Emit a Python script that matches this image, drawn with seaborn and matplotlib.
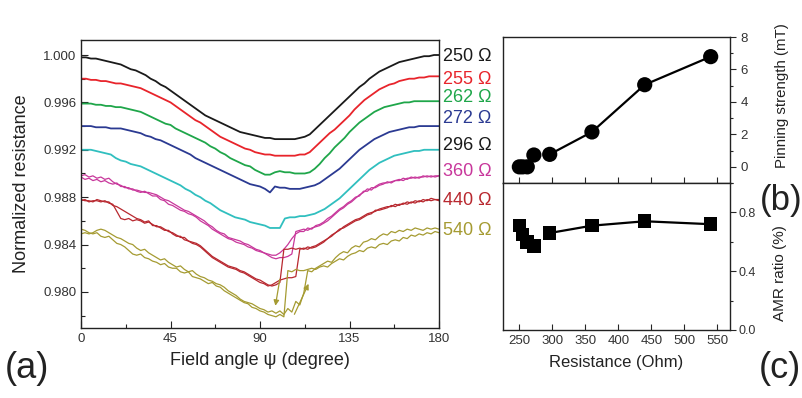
import matplotlib
matplotlib.use("Agg")
import numpy as np
import matplotlib.pyplot as plt
from matplotlib.ticker import MultipleLocator, FormatStrFormatter
import seaborn as sns

sns.set_theme(style="ticks")
plt.rcParams["font.family"] = ["Liberation Sans", "DejaVu Sans"]

# ── (a) angle sweeps ──────────────────────────────────────────────────────────
angle_smooth = np.arange(0, 180.1, 2.5)   # 73 samples
angle_noisy = np.arange(0, 180.1, 2.0)    # 91 samples

r250 = [0.9998, 0.9998, 0.9997, 0.9997, 0.9996, 0.9995, 0.9994, 0.9993,
        0.9992, 0.9990, 0.9988, 0.9987, 0.9985, 0.9983, 0.9980, 0.9978,
        0.9975, 0.9973, 0.9970, 0.9967, 0.9964, 0.9961, 0.9958, 0.9955,
        0.9952, 0.9949, 0.9947, 0.9945, 0.9943, 0.9941, 0.9939, 0.9937,
        0.9935, 0.9934, 0.9933, 0.9932, 0.9931, 0.9930, 0.9930, 0.9929,
        0.9929, 0.9929, 0.9929, 0.9929, 0.9930, 0.9931, 0.9933, 0.9937,
        0.9941, 0.9945, 0.9949, 0.9953, 0.9957, 0.9961, 0.9965, 0.9969,
        0.9973, 0.9976, 0.9980, 0.9983, 0.9986, 0.9988, 0.9990, 0.9992,
        0.9994, 0.9995, 0.9996, 0.9997, 0.9998, 0.9999, 0.9999, 1.0000,
        1.0000]
r255 = [0.9980, 0.9980, 0.9979, 0.9979, 0.9978, 0.9978, 0.9977, 0.9976,
        0.9976, 0.9975, 0.9974, 0.9973, 0.9972, 0.9970, 0.9968, 0.9966,
        0.9964, 0.9962, 0.9960, 0.9957, 0.9954, 0.9951, 0.9948, 0.9945,
        0.9943, 0.9940, 0.9937, 0.9934, 0.9931, 0.9929, 0.9927, 0.9925,
        0.9923, 0.9921, 0.9920, 0.9918, 0.9917, 0.9916, 0.9916, 0.9915,
        0.9915, 0.9915, 0.9915, 0.9915, 0.9916, 0.9916, 0.9918, 0.9922,
        0.9926, 0.9930, 0.9934, 0.9937, 0.9941, 0.9945, 0.9949, 0.9954,
        0.9958, 0.9962, 0.9965, 0.9968, 0.9971, 0.9973, 0.9975, 0.9976,
        0.9978, 0.9979, 0.9980, 0.9980, 0.9981, 0.9981, 0.9982, 0.9982,
        0.9982]
r262 = [0.9959, 0.9959, 0.9959, 0.9958, 0.9958, 0.9957, 0.9957, 0.9956,
        0.9956, 0.9955, 0.9954, 0.9953, 0.9952, 0.9950, 0.9948, 0.9946,
        0.9944, 0.9942, 0.9941, 0.9938, 0.9936, 0.9934, 0.9932, 0.9930,
        0.9928, 0.9926, 0.9923, 0.9921, 0.9918, 0.9916, 0.9913, 0.9911,
        0.9909, 0.9907, 0.9906, 0.9903, 0.9901, 0.9899, 0.9899, 0.9901,
        0.9902, 0.9901, 0.9901, 0.9900, 0.9900, 0.9900, 0.9901, 0.9904,
        0.9908, 0.9913, 0.9917, 0.9922, 0.9926, 0.9930, 0.9935, 0.9939,
        0.9943, 0.9946, 0.9949, 0.9952, 0.9954, 0.9956, 0.9957, 0.9958,
        0.9959, 0.9960, 0.9960, 0.9961, 0.9961, 0.9961, 0.9961, 0.9961,
        0.9961]
r272 = [0.9940, 0.9940, 0.9940, 0.9939, 0.9939, 0.9939, 0.9938, 0.9938,
        0.9938, 0.9937, 0.9936, 0.9935, 0.9934, 0.9932, 0.9931, 0.9929,
        0.9928, 0.9926, 0.9924, 0.9922, 0.9920, 0.9918, 0.9916, 0.9913,
        0.9911, 0.9909, 0.9907, 0.9905, 0.9903, 0.9901, 0.9899, 0.9897,
        0.9895, 0.9893, 0.9891, 0.9890, 0.9889, 0.9887, 0.9884, 0.9889,
        0.9888, 0.9888, 0.9887, 0.9887, 0.9887, 0.9888, 0.9889, 0.9890,
        0.9892, 0.9895, 0.9898, 0.9901, 0.9904, 0.9908, 0.9912, 0.9916,
        0.9920, 0.9923, 0.9926, 0.9929, 0.9931, 0.9933, 0.9935, 0.9936,
        0.9937, 0.9938, 0.9939, 0.9939, 0.9940, 0.9940, 0.9940, 0.9940,
        0.9940]
r296 = [0.9920, 0.9920, 0.9920, 0.9919, 0.9918, 0.9917, 0.9916, 0.9913,
        0.9911, 0.9910, 0.9908, 0.9907, 0.9906, 0.9904, 0.9902, 0.9900,
        0.9898, 0.9896, 0.9894, 0.9892, 0.9890, 0.9887, 0.9885, 0.9882,
        0.9880, 0.9877, 0.9875, 0.9872, 0.9869, 0.9867, 0.9865, 0.9863,
        0.9862, 0.9861, 0.9859, 0.9858, 0.9857, 0.9856, 0.9854, 0.9854,
        0.9854, 0.9862, 0.9863, 0.9863, 0.9864, 0.9864, 0.9865, 0.9866,
        0.9868, 0.9870, 0.9873, 0.9876, 0.9879, 0.9883, 0.9887, 0.9891,
        0.9895, 0.9899, 0.9903, 0.9906, 0.9909, 0.9911, 0.9913, 0.9915,
        0.9916, 0.9917, 0.9918, 0.9919, 0.9919, 0.9920, 0.9920, 0.9920,
        0.9920]

# noisy samples: two sweeps each
r360_a = [0.9898, 0.9899, 0.9897, 0.9898, 0.9896, 0.9897, 0.9895, 0.9896, 0.9893, 0.9891,
          0.9890, 0.9888, 0.9888, 0.9886, 0.9886, 0.9885, 0.9884, 0.9884, 0.9883, 0.9882,
          0.9880, 0.9878, 0.9877, 0.9875, 0.9873, 0.9871, 0.9869, 0.9868, 0.9866, 0.9864,
          0.9862, 0.9860, 0.9857, 0.9855, 0.9852, 0.9850, 0.9849, 0.9846, 0.9845, 0.9844,
          0.9843, 0.9841, 0.9840, 0.9838, 0.9836, 0.9835, 0.9833, 0.9831, 0.9829, 0.9828,
          0.9829, 0.9829, 0.9830, 0.9832, 0.9851, 0.9852, 0.9853, 0.9852, 0.9854, 0.9855,
          0.9856, 0.9858, 0.9860, 0.9863, 0.9866, 0.9869, 0.9871, 0.9874, 0.9876, 0.9879,
          0.9882, 0.9884, 0.9887, 0.9886, 0.9889, 0.9891, 0.9892, 0.9892, 0.9893, 0.9894,
          0.9894, 0.9896, 0.9895, 0.9897, 0.9896, 0.9897, 0.9897, 0.9898, 0.9897, 0.9898,
          0.9898]
r360_b = [0.9897, 0.9895, 0.9896, 0.9894, 0.9895, 0.9893, 0.9894, 0.9892, 0.9891, 0.9892,
          0.9889, 0.9889, 0.9887, 0.9887, 0.9885, 0.9884, 0.9885, 0.9883, 0.9881, 0.9881,
          0.9878, 0.9877, 0.9874, 0.9873, 0.9871, 0.9869, 0.9868, 0.9866, 0.9865, 0.9863,
          0.9860, 0.9858, 0.9856, 0.9853, 0.9851, 0.9849, 0.9847, 0.9845, 0.9844, 0.9842,
          0.9841, 0.9840, 0.9838, 0.9837, 0.9835, 0.9834, 0.9833, 0.9832, 0.9831, 0.9831,
          0.9833, 0.9836, 0.9840, 0.9845, 0.9849, 0.9851, 0.9851, 0.9854, 0.9853, 0.9856,
          0.9857, 0.9859, 0.9862, 0.9864, 0.9867, 0.9870, 0.9872, 0.9875, 0.9877, 0.9880,
          0.9881, 0.9885, 0.9885, 0.9888, 0.9888, 0.9890, 0.9891, 0.9893, 0.9892, 0.9894,
          0.9895, 0.9894, 0.9896, 0.9896, 0.9897, 0.9896, 0.9898, 0.9897, 0.9898, 0.9897,
          0.9898]
r440_a = [0.9877, 0.9878, 0.9876, 0.9877, 0.9877, 0.9876, 0.9877, 0.9875, 0.9874, 0.9868,
          0.9862, 0.9861, 0.9862, 0.9860, 0.9861, 0.9860, 0.9858, 0.9859, 0.9857, 0.9855,
          0.9855, 0.9853, 0.9851, 0.9850, 0.9848, 0.9846, 0.9846, 0.9843, 0.9842, 0.9841,
          0.9839, 0.9836, 0.9833, 0.9830, 0.9828, 0.9826, 0.9824, 0.9822, 0.9821, 0.9820,
          0.9818, 0.9817, 0.9815, 0.9813, 0.9811, 0.9810, 0.9808, 0.9806, 0.9805, 0.9806,
          0.9808, 0.9836, 0.9836, 0.9837, 0.9836, 0.9837, 0.9836, 0.9838, 0.9837, 0.9838,
          0.9840, 0.9842, 0.9845, 0.9847, 0.9850, 0.9852, 0.9855, 0.9857, 0.9859, 0.9861,
          0.9862, 0.9864, 0.9866, 0.9867, 0.9868, 0.9870, 0.9871, 0.9872, 0.9872, 0.9874,
          0.9873, 0.9875, 0.9874, 0.9876, 0.9875, 0.9877, 0.9876, 0.9878, 0.9877, 0.9878,
          0.9878]
r440_b = [0.9878, 0.9877, 0.9877, 0.9876, 0.9878, 0.9877, 0.9876, 0.9876, 0.9873, 0.9872,
          0.9870, 0.9868, 0.9866, 0.9864, 0.9862, 0.9861, 0.9859, 0.9860, 0.9856, 0.9856,
          0.9854, 0.9852, 0.9852, 0.9849, 0.9847, 0.9847, 0.9844, 0.9843, 0.9841, 0.9840,
          0.9838, 0.9835, 0.9832, 0.9829, 0.9827, 0.9825, 0.9823, 0.9821, 0.9820, 0.9819,
          0.9817, 0.9816, 0.9814, 0.9812, 0.9810, 0.9808, 0.9807, 0.9805, 0.9806, 0.9808,
          0.9810, 0.9811, 0.9812, 0.9812, 0.9813, 0.9836, 0.9837, 0.9836, 0.9838, 0.9839,
          0.9841, 0.9843, 0.9845, 0.9848, 0.9850, 0.9853, 0.9854, 0.9856, 0.9858, 0.9860,
          0.9861, 0.9863, 0.9865, 0.9866, 0.9869, 0.9869, 0.9870, 0.9871, 0.9873, 0.9872,
          0.9874, 0.9874, 0.9876, 0.9875, 0.9877, 0.9876, 0.9878, 0.9877, 0.9879, 0.9878,
          0.9877]
r540_a = [0.9853, 0.9852, 0.9850, 0.9849, 0.9850, 0.9847, 0.9846, 0.9847, 0.9844, 0.9841,
          0.9840, 0.9838, 0.9835, 0.9832, 0.9831, 0.9832, 0.9829, 0.9828, 0.9826, 0.9825,
          0.9823, 0.9824, 0.9821, 0.9820, 0.9820, 0.9817, 0.9816, 0.9817, 0.9813, 0.9812,
          0.9811, 0.9809, 0.9807, 0.9808, 0.9805, 0.9804, 0.9801, 0.9799, 0.9797, 0.9795,
          0.9793, 0.9791, 0.9790, 0.9787, 0.9786, 0.9784, 0.9783, 0.9781, 0.9780, 0.9779,
          0.9781, 0.9779, 0.9818, 0.9817, 0.9819, 0.9818, 0.9818, 0.9819, 0.9820, 0.9819,
          0.9821, 0.9822, 0.9821, 0.9824, 0.9826, 0.9828, 0.9827, 0.9830, 0.9832, 0.9833,
          0.9835, 0.9834, 0.9837, 0.9838, 0.9837, 0.9840, 0.9841, 0.9840, 0.9843, 0.9844,
          0.9843, 0.9846, 0.9845, 0.9848, 0.9847, 0.9849, 0.9848, 0.9850, 0.9849, 0.9851,
          0.9850]
r540_b = [0.9849, 0.9850, 0.9849, 0.9850, 0.9852, 0.9853, 0.9852, 0.9850, 0.9848, 0.9846,
          0.9845, 0.9843, 0.9841, 0.9840, 0.9837, 0.9835, 0.9836, 0.9833, 0.9831, 0.9829,
          0.9827, 0.9828, 0.9825, 0.9823, 0.9821, 0.9822, 0.9819, 0.9817, 0.9818, 0.9815,
          0.9813, 0.9812, 0.9810, 0.9809, 0.9807, 0.9806, 0.9804, 0.9801, 0.9799, 0.9797,
          0.9794, 0.9792, 0.9791, 0.9790, 0.9788, 0.9786, 0.9785, 0.9783, 0.9784, 0.9782,
          0.9784, 0.9781, 0.9786, 0.9783, 0.9792, 0.9789, 0.9799, 0.9818, 0.9817, 0.9820,
          0.9822, 0.9824, 0.9826, 0.9825, 0.9829, 0.9832, 0.9834, 0.9833, 0.9837, 0.9839,
          0.9838, 0.9842, 0.9843, 0.9845, 0.9844, 0.9847, 0.9849, 0.9848, 0.9851, 0.9850,
          0.9852, 0.9851, 0.9853, 0.9852, 0.9854, 0.9853, 0.9852, 0.9854, 0.9853, 0.9854,
          0.9853]

sample_labels = ["250 Ω", "255 Ω", "262 Ω", "272 Ω", "296 Ω", "360 Ω", "440 Ω", "540 Ω"]

# ── (b), (c) vs resistance ────────────────────────────────────────────────────
resistance = [250, 255, 262, 272, 296, 360, 440, 540]
pinning = [0.0, 0.0, 0.0, 0.73, 0.77, 2.15, 5.06, 6.79]
amr = [0.71, 0.65, 0.60, 0.57, 0.66, 0.71, 0.74, 0.72]

colors = {
    "250": "#1a1a1a", "255": "#e8242b", "262": "#1fa64a", "272": "#2b3a92",
    "296": "#30bfbf", "360": "#c8379b", "440": "#b8282f", "540": "#a59b32",
}
label_colors = ["#1a1a1a", "#e8242b", "#1fa64a", "#2b3a92",
                "#1a1a1a", "#c8379b", "#b8282f", "#a59b32"]

fig = plt.figure(figsize=(8.02, 3.98), dpi=100)
ax = fig.add_axes([0.101, 0.176, 0.4464, 0.7236])
axb = fig.add_axes([0.627, 0.540, 0.283, 0.367])
axc = fig.add_axes([0.627, 0.171, 0.283, 0.369], sharex=axb)

smooth = [(r250, "250"), (r255, "255"), (r262, "262"), (r272, "272"), (r296, "296")]
for vals, key in smooth:
    sns.lineplot(x=angle_smooth, y=vals, ax=ax, color=colors[key], lw=1.3,
                 estimator=None, sort=False)

noisy = [(r360_a, "360"), (r360_b, "360"), (r440_a, "440"), (r440_b, "440"),
         (r540_a, "540"), (r540_b, "540")]
for vals, key in noisy:
    sns.lineplot(x=angle_noisy, y=vals, ax=ax, color=colors[key], lw=0.9,
                 estimator=None, sort=False)

# sweep direction arrows
arrow = dict(arrowstyle="-|>", color=colors["540"], lw=0.9, mutation_scale=8)
ax.annotate("", xy=(97.5, 0.9786), xytext=(100.2, 0.9813), arrowprops=arrow)
ax.annotate("", xy=(115.0, 0.9809), xytext=(106.7, 0.9779), arrowprops=arrow)

ax.set_xlim(0, 180)
ax.set_ylim(0.97696, 1.00127)
ax.xaxis.set_major_locator(MultipleLocator(45))
ax.xaxis.set_minor_locator(MultipleLocator(22.5))
ax.yaxis.set_major_locator(MultipleLocator(0.004))
ax.yaxis.set_minor_locator(MultipleLocator(0.002))
ax.yaxis.set_major_formatter(FormatStrFormatter("%.3f"))
ax.tick_params(which="both", direction="in", top=False, right=False,
               labelsize=9.5, width=0.8, colors="#222222", labelcolor="#333333")
ax.tick_params(which="major", length=5)
ax.tick_params(which="minor", length=3)
ax.set_xlabel("Field angle ψ (degree)", fontsize=13, color="#222222", labelpad=5)
ax.set_ylabel("Normalized resistance", fontsize=13, color="#222222", labelpad=9)

label_y = [0.941, 0.861, 0.799, 0.726, 0.635, 0.542, 0.441, 0.340]
for txt, yy, c in zip(sample_labels, label_y, label_colors):
    ax.text(1.011, yy, txt, transform=ax.transAxes, fontsize=13, color=c,
            ha="left", va="center")

# (b) pinning strength
sns.lineplot(x=resistance[4:], y=pinning[4:], ax=axb, color="black", lw=1.6,
             estimator=None, sort=False)
sns.scatterplot(x=resistance, y=pinning, ax=axb, color="black", s=120,
                marker="o", edgecolor="none", zorder=3)
axb.set_ylim(-1, 8)
axb.yaxis.set_major_locator(MultipleLocator(2))
axb.yaxis.set_minor_locator(MultipleLocator(1))
axb.yaxis.tick_right()
axb.yaxis.set_label_position("right")
axb.set_ylabel("Pinning strength (mT)", fontsize=10.8, color="#222222")
axb.yaxis.set_label_coords(1.198, 0.60)
axb.tick_params(axis="x", which="both", direction="in", labelbottom=False,
                length=4, width=0.8)
axb.tick_params(axis="y", which="both", direction="out", left=False, right=True,
                labelleft=False, labelright=True, labelsize=9.5, width=0.8,
                labelcolor="#333333")
axb.tick_params(axis="y", which="minor", length=2.5)
axb.tick_params(axis="y", which="major", length=4)

# (c) AMR ratio
sns.lineplot(x=resistance[4:], y=amr[4:], ax=axc, color="black", lw=1.6,
             estimator=None, sort=False)
sns.scatterplot(x=resistance, y=amr, ax=axc, color="black", s=95,
                marker="s", edgecolor="none", zorder=3)
axc.set_xlim(225, 569)
axc.set_ylim(0, 1.0)
axc.xaxis.set_major_locator(MultipleLocator(50))
axc.yaxis.set_major_locator(MultipleLocator(0.4))
axc.yaxis.set_minor_locator(MultipleLocator(0.2))
axc.yaxis.set_major_formatter(FormatStrFormatter("%.1f"))
axc.yaxis.tick_right()
axc.yaxis.set_label_position("right")
axc.set_ylabel("AMR ratio (%)", fontsize=11, color="#222222")
axc.yaxis.set_label_coords(1.19, 0.39)
axc.set_xlabel("Resistance (Ohm)", fontsize=12, color="#222222", labelpad=6)
axc.tick_params(axis="x", which="both", direction="in", labelsize=9.5,
                width=0.8, labelcolor="#333333")
axc.tick_params(axis="x", which="major", length=4)
axc.tick_params(axis="x", which="minor", length=2.5)
axc.xaxis.set_minor_locator(MultipleLocator(25))
axb.xaxis.set_minor_locator(MultipleLocator(50))
axc.tick_params(axis="y", which="both", direction="out", left=False, right=True,
                labelleft=False, labelright=True, labelsize=9, width=0.8,
                labelcolor="#333333", pad=2)
axc.tick_params(axis="y", which="minor", length=2.5)
axc.tick_params(axis="y", which="major", length=4)

for a in (ax, axb, axc):
    for sp in a.spines.values():
        sp.set_linewidth(1.0)
        sp.set_color("#222222")
    a.set_facecolor("white")

fig.text(0.034, 0.075, "(a)", fontsize=26, ha="center", va="center", color="#222222")
fig.text(0.974, 0.497, "(b)", fontsize=25, ha="center", va="center", color="#222222")
fig.text(0.972, 0.075, "(c)", fontsize=26, ha="center", va="center", color="#222222")

fig.savefig("out.png", dpi=100, facecolor="white")
